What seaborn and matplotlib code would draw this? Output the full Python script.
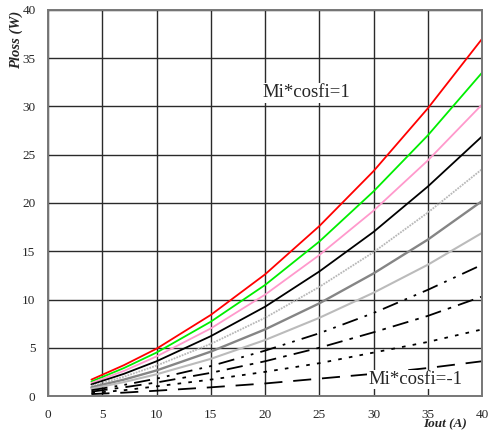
#Ploss vs Iout for Mi*cosfi from 1 down to -1

import pandas as pd
import matplotlib
matplotlib.use("Agg")
import matplotlib.pyplot as plt
import seaborn as sns

# data
iout = [4, 7, 10, 15, 20, 25, 30, 35, 40]

p_red = [1.7, 3.2, 4.9, 8.4, 12.6, 17.6, 23.3, 29.8, 37.0]
p_green = [1.5, 2.9, 4.5, 7.7, 11.5, 16.0, 21.2, 27.0, 33.5]
p_pink = [1.35, 2.6, 4.1, 7.0, 10.5, 14.6, 19.2, 24.4, 30.2]
p_black = [1.2, 2.3, 3.6, 6.2, 9.25, 12.9, 17.0, 21.7, 26.9]
p_dotgray = [1.05, 2.0, 3.15, 5.4, 8.1, 11.3, 14.9, 19.0, 23.5]
p_gray = [0.9, 1.7, 2.65, 4.6, 6.9, 9.6, 12.7, 16.2, 20.2]
p_lightgray = [0.75, 1.45, 2.25, 3.85, 5.8, 8.1, 10.7, 13.6, 16.9]
p_dashdotdot = [0.6, 1.15, 1.8, 3.1, 4.7, 6.5, 8.6, 11.0, 13.6]
p_dashdot = [0.45, 0.9, 1.4, 2.4, 3.6, 5.0, 6.6, 8.3, 10.3]
p_dotted = [0.3, 0.6, 1.0, 1.7, 2.5, 3.4, 4.5, 5.6, 6.9]
p_dashed = [0.2, 0.35, 0.55, 0.9, 1.3, 1.8, 2.3, 2.9, 3.6]

x_ticks = [0, 5, 10, 15, 20, 25, 30, 35, 40]
y_ticks = [0, 5, 10, 15, 20, 25, 30, 35, 40]

sns.set_style("white")
plt.rcParams["font.family"] = ["Liberation Serif", "DejaVu Serif"]

fig = plt.figure(figsize=(4.89, 4.32), dpi=100)
ax = fig.add_axes([0.0982, 0.0833, 0.8875, 0.8936])

curves = [
    (p_red, "#ff0000", "-", 1.3),
    (p_green, "#00ee00", "-", 1.3),
    (p_pink, "#ff99cc", "-", 1.3),
    (p_black, "#000000", "-", 1.3),
    (p_dotgray, "#b8b8b8", (0, (1, 0.6)), 1.3),
    (p_gray, "#858585", "-", 1.7),
    (p_lightgray, "#bbbbbb", "-", 1.5),
    (p_dashdotdot, "#000000", (0, (9, 4, 1.5, 4, 1.5, 4)), 1.3),
    (p_dashdot, "#000000", (0, (9, 4, 2, 4)), 1.3),
    (p_dotted, "#000000", (0, (2, 4)), 1.3),
    (p_dashed, "#000000", (0, (10, 6)), 1.3),
]

for vals, col, ls, lw in curves:
    df = pd.DataFrame({"Iout": iout, "Ploss": vals})
    sns.lineplot(data=df, x="Iout", y="Ploss", color=col, linestyle=ls,
                 linewidth=lw, ax=ax)

ax.set_xlim(0, 40)
ax.set_ylim(0, 40)
ax.set_xticks(x_ticks)
ax.set_yticks(y_ticks)
ax.grid(True, color="#2a2a2a", linewidth=1.0)
ax.set_axisbelow(True)
ax.tick_params(length=0, pad=9, labelsize=9.5)
ax.set_xlabel("")
ax.set_ylabel("")
for s in ax.spines.values():
    s.set_color("#777777")
    s.set_linewidth(1.4)

box = dict(facecolor="white", edgecolor="none", pad=1)
ax.text(19.8, 31.4, "Mi*cosfi=1", fontsize=13.5, va="center", ha="left",
        bbox=box)
ax.text(29.5, 1.7, "Mi*cosfi=-1", fontsize=13.5, va="center", ha="left",
        bbox=box)

fig.text(0.033, 0.907, "Ploss (W)", rotation=90, fontsize=10.5,
         fontweight="bold", fontstyle="italic", ha="center", va="center")
fig.text(0.91, 0.017, "Iout (A)", fontsize=9.5,
         fontweight="bold", fontstyle="italic", ha="center", va="center")

fig.savefig("out.png", dpi=100)
